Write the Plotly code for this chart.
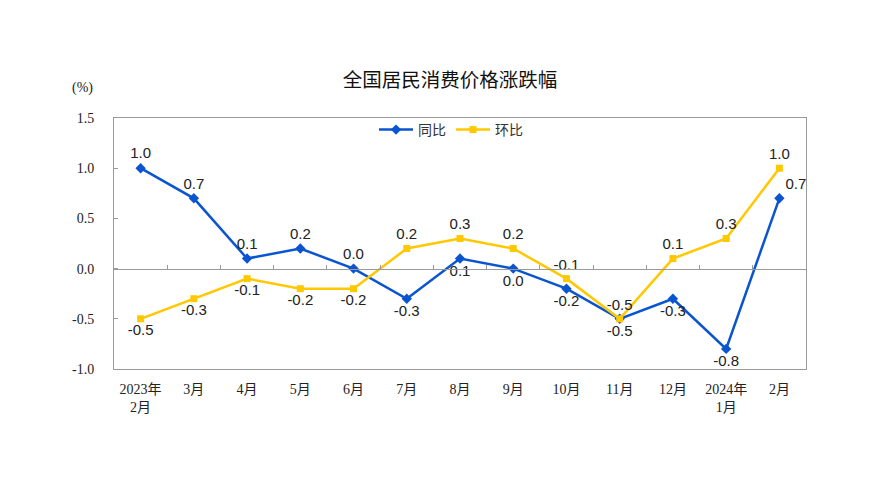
import plotly.graph_objects as go

categories = ["2023年<br>2月", "3月", "4月", "5月", "6月", "7月", "8月", "9月",
              "10月", "11月", "12月", "2024年<br>1月", "2月"]
yoy = [1.0, 0.7, 0.1, 0.2, 0.0, -0.3, 0.1, 0.0, -0.2, -0.5, -0.3, -0.8, 0.7]
mom = [-0.5, -0.3, -0.1, -0.2, -0.2, 0.2, 0.3, 0.2, -0.1, -0.5, 0.1, 0.3, 1.0]
yoy_pos = ["top center"] * 5 + ["bottom center"] * 7 + ["top right"]
mom_pos = ["bottom center"] * 5 + ["top center"] * 8
y_ticks = [-1.0, -0.5, 0.0, 0.5, 1.0, 1.5]

BLUE = "#0A55CF"
YELLOW = "#FFC800"
xs = list(range(len(categories)))

# page body has an 8px default margin; lay out in page pixels minus that
OFF = 8
W, H = 870 - OFF, 492 - OFF
L, T = 113.5 - OFF, 118 - OFF
PW, PH = 693, 251

fig = go.Figure()
fig.add_trace(go.Scatter(
    x=xs, y=yoy, name="同比", mode="lines+markers+text",
    line=dict(color=BLUE, width=2.5),
    marker=dict(symbol="diamond", size=8, color=BLUE),
    text=[f"{v:.1f}" for v in yoy], textposition=yoy_pos,
    textfont=dict(family="Liberation Sans, Arial", size=15, color="#222"),
))
fig.add_trace(go.Scatter(
    x=xs, y=mom, name="环比", mode="lines+markers+text",
    line=dict(color=YELLOW, width=2.5),
    marker=dict(symbol="square", size=7, color=YELLOW),
    text=[f"{v:.1f}" for v in mom], textposition=mom_pos,
    textfont=dict(family="Liberation Sans, Arial", size=15, color="#222"),
))
# invisible trace to carry the zero-line tick axis
fig.add_trace(go.Scatter(x=xs, y=[None] * len(xs), xaxis="x2", showlegend=False,
                         hoverinfo="skip", mode="lines"))

fig.update_layout(
    width=W, height=H,
    margin=dict(l=L, r=W - L - PW, t=T, b=H - T - PH, autoexpand=False),
    plot_bgcolor="white", paper_bgcolor="white",
    title=dict(text="全国居民消费价格涨跌幅", x=(450 - OFF) / W, xanchor="center",
               y=1 - (80 - OFF) / H, yanchor="middle",
               font=dict(family="Noto Sans CJK SC", size=19.5, color="#111")),
    legend=dict(orientation="h", x=(451 - 113.5) / PW, xanchor="center",
                y=(369 - 130) / PH, yanchor="middle",
                font=dict(family="Noto Sans CJK SC", size=14, color="#333"),
                bgcolor="rgba(0,0,0,0)", itemwidth=34, tracegroupgap=0),
    xaxis=dict(range=[-0.5, 12.5], tickvals=xs, ticktext=categories,
               showline=True, linecolor="#9a9a9a", linewidth=1, mirror=True,
               ticks="", showgrid=False, zeroline=False, automargin=False,
               ticklabelstandoff=7,
               tickfont=dict(family="Liberation Serif, Noto Sans CJK SC", size=14, color="#222")),
    xaxis2=dict(range=[-0.5, 12.5], overlaying="x", anchor="free", position=0.4,
                side="top", showline=True, linecolor="#9a9a9a", linewidth=1,
                tickvals=[i - 0.5 for i in range(1, len(categories))],
                ticks="outside", ticklen=4, tickcolor="#9a9a9a", automargin=False,
                showticklabels=False, showgrid=False, zeroline=False),
    yaxis=dict(range=[-1.0, 1.5], tickvals=y_ticks,
               ticktext=[f"{v:.1f}" for v in y_ticks],
               showline=True, linecolor="#9a9a9a", linewidth=1, mirror=True,
               ticks="inside", ticklen=4, tickcolor="#9a9a9a", automargin=False,
               showgrid=False, zeroline=False, ticklabelstandoff=16,
               tickfont=dict(family="Liberation Serif", size=14, color="#222")),
    annotations=[dict(text="(%)", xref="paper", yref="paper",
                      x=(82 - 113.5) / PW, y=(369 - 88) / PH,
                      xanchor="center", yanchor="middle", showarrow=False,
                      font=dict(family="Liberation Serif", size=14, color="#222"))],
)

fig.write_html("out.html")
